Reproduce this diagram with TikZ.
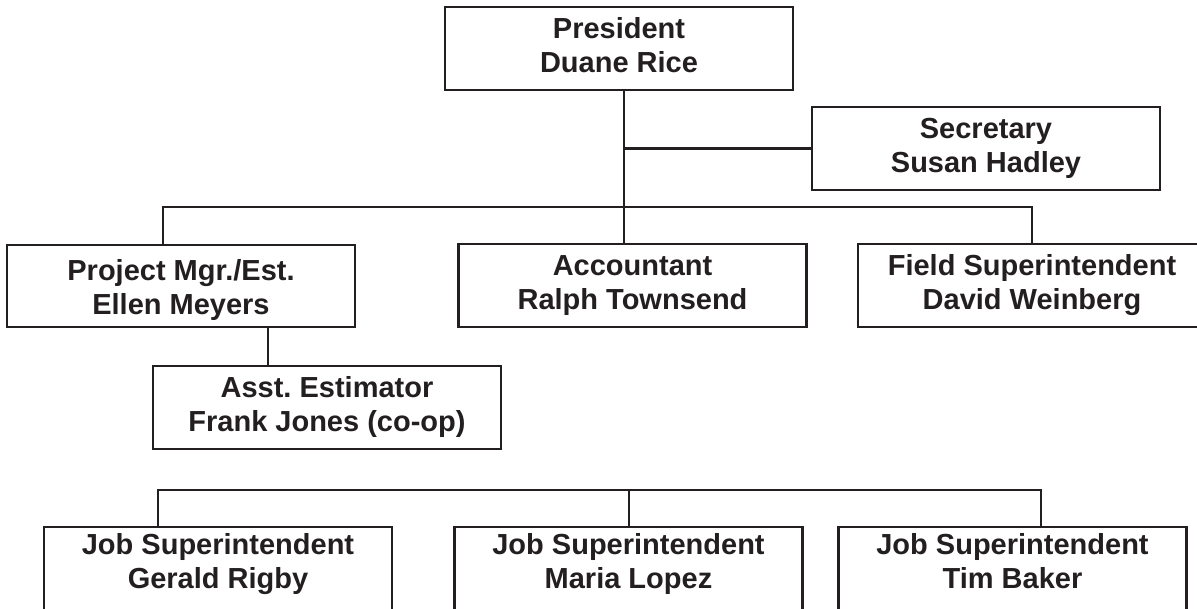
\documentclass[tikz,border=0pt]{standalone}
\usepackage{fontspec}
\setmainfont{Liberation Sans}
\frenchspacing
\definecolor{ink}{HTML}{231F20}
\newcommand{\twolines}[2]{\begin{tabular}[t]{@{}c@{}}#1\\#2\end{tabular}}

\begin{document}
\begin{tikzpicture}[x=1pt, y=-1pt, line width=2.8pt, draw=ink,
    orgbox/.style={draw=ink, text=ink, rectangle, anchor=north, inner sep=0pt, outer sep=0pt,
        minimum width=348pt, text height=31pt, text depth=52pt,
        font=\fontsize{29}{34.5}\selectfont\bfseries},
    jobbox/.style={orgbox, text height=27pt, text depth=75pt}]
            \useasboundingbox (0,0) rectangle (1197,608);
            \clip (0,0) rectangle (1197,608);

            \node[orgbox] (pres) at (619,7) {\twolines{President}{Duane Rice}};
            \node[orgbox] (sec) at (986,107) {\twolines{Secretary}{Susan Hadley}};
            \node[orgbox, text height=35pt, text depth=47pt] (pm) at (181,245) {\twolines{Project Mgr./Est.}{Ellen Meyers}};
            \node[orgbox] (acct) at (632.5,244) {\twolines{Accountant}{Ralph Townsend}};
            \node[orgbox] (field) at (1032,244) {\twolines{Field Superintendent}{David Weinberg}};
            \node[orgbox] (asst) at (327,366) {\twolines{Asst. Estimator}{Frank Jones (co-op)}};

            \node[jobbox] (jobA) at (218,527) {\twolines{Job Superintendent}{Gerald Rigby}};
            \node[jobbox] (jobB) at (628.5,527) {\twolines{Job Superintendent}{Maria Lopez}};
            \node[jobbox] (jobC) at (1012.5,527) {\twolines{Job Superintendent}{Tim Baker}};

            \coordinate (trunk) at (624,207);
            \coordinate (pmdrop) at (163,207);
            \coordinate (estline) at (268,346);
            \coordinate (jobL) at (158,490);
            \coordinate (jobM) at (629,490);
            \coordinate (jobR) at (1041,490);

            \draw (pres.south -| trunk) -- (acct.north -| trunk);
            \draw (sec.west) -- (sec.west -| trunk);
            \draw (pm.north -| pmdrop) -- (pmdrop) -- (trunk -| field.north) -- (field.north);
            \draw (pm.south -| estline) -- (asst.north -| estline);

            \draw (jobA.north -| jobL) -- (jobL) -- (jobR) -- (jobC.north -| jobR);
            \draw (jobM) -- (jobB.north -| jobM);
        \end{tikzpicture}
\end{document}
